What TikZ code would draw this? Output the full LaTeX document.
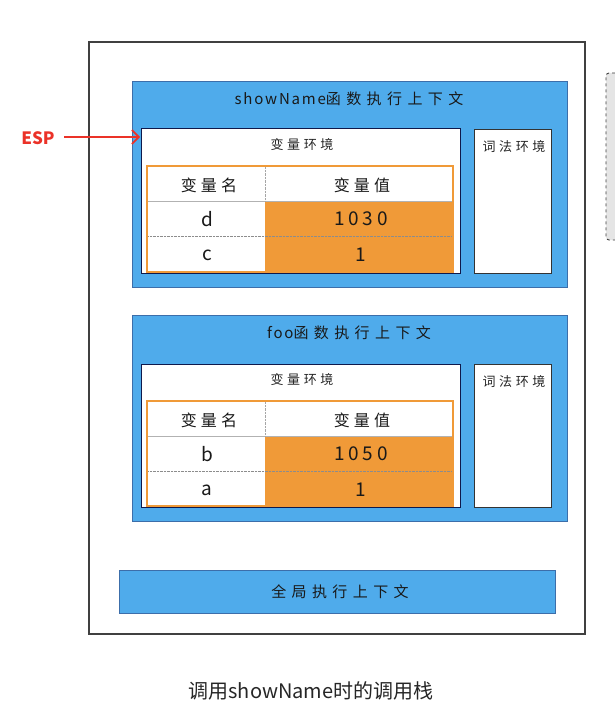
\documentclass[tikz,border=0pt]{standalone}
\usepackage{fontspec}
\setmainfont{Noto Sans CJK SC}
\usetikzlibrary{arrows.meta}
\definecolor{ctxblue}{RGB}{79,171,235}
\definecolor{ctxborder}{RGB}{60,110,170}
\definecolor{orng}{RGB}{240,154,56}
\definecolor{navy}{RGB}{15,25,75}
\definecolor{espred}{RGB}{235,50,40}
\newcommand{\lat}[1]{{\addfontfeature{LetterSpace=12}#1}}
\newcommand{\cjksp}[1]{{\addfontfeature{LetterSpace=36}#1}}
\tikzset{
  box/.style={inner sep=0pt, outer sep=0pt, anchor=north west},
  ctx/.style={box, fill=ctxblue, draw=ctxborder, line width=0.8pt},
  envbox/.style={box, fill=white, draw=navy, line width=1pt},
  lexbox/.style={box, fill=white, draw=black!80, line width=0.8pt},
  tbl/.style={box, draw=orng, line width=2pt},
  cellw/.style={box, fill=white},
  cello/.style={box, fill=orng},
  title/.style={font=\fontsize{15}{18}\selectfont, text=black!90},
  envlabel/.style={font=\fontsize{13}{15}\selectfont\addfontfeature{LetterSpace=28}, text=black!85},
  head/.style={font=\fontsize{16}{19}\selectfont\addfontfeature{LetterSpace=26}, text=black!90},
  val/.style={font=\fontsize{19}{22}\selectfont\addfontfeature{LetterSpace=20}, text=black!90},
}
\begin{document}
\begin{tikzpicture}[x=1pt,y=-1pt]
\useasboundingbox (0,0) rectangle (614,722);
% outer stack frame
\node[box, draw=black!75, line width=1.2pt, minimum width=496pt, minimum height=592pt] (stack) at (89,42) {};
% partial box at right edge
\node[box, fill=black!10, draw=black!75, dashed, line width=0.9pt, rounded corners=3pt, minimum width=30pt, minimum height=167pt] (side) at (606,73) {};

% ===== showName context =====
\node[ctx, minimum width=435pt, minimum height=206pt] (sctx) at (132,81) {};
\node[title] (stitle) at (349,99) {\lat{showName}\cjksp{函数执行上下文}};
\node[envbox, minimum width=319pt, minimum height=144pt] (senv) at (141,129) {};
\node[envlabel] (senvl) at (302,145) {变量环境};
\node[lexbox, minimum width=77pt, minimum height=144pt] (slex) at (474,129) {};
\node[envlabel, anchor=north] (slexl) at (514,137) {词法环境};
% table
\node[cellw, minimum width=306pt, minimum height=105pt] (stbg) at (147,166) {};
\node[cello, minimum width=188pt, minimum height=70pt] (sor) at (265,201) {};
\draw[black!30, line width=0.8pt] (147,201) -- (453,201);
\draw[black!35, densely dotted] (265,167) -- (265,201);
\draw[black!45, densely dotted] (147,236) -- (453,236);
\node[tbl, minimum width=306pt, minimum height=106pt] (stbl) at (147,166) {};
\node[head] (sh1) at (209,185) {变量名};
\node[head] (sh2) at (362,185) {变量值};
\node[val] (sd) at (207,219) {d};
\node[val] (sdv) at (361,219) {1030};
\node[val] (sc) at (207,255) {c};
\node[val] (scv) at (361,255) {1};

% ESP pointer
\node[font=\fontsize{17}{20}\selectfont\bfseries, text=espred] (esp) at (38,138) {ESP};
\coordinate (espend) at (140,137);
\draw[espred, line width=1.6pt, -{Straight Barb[length=7pt,width=14pt]}] (64,137) -- (espend);

% ===== foo context =====
\node[ctx, minimum width=435pt, minimum height=206pt] (fctx) at (132,315) {};
\node[title] (ftitle) at (349,333) {\lat{foo}\cjksp{函数执行上下文}};
\node[envbox, minimum width=319pt, minimum height=143pt] (fenv) at (141,364) {};
\node[envlabel] (fenvl) at (302,380) {变量环境};
\node[lexbox, minimum width=77pt, minimum height=143pt] (flex) at (474,364) {};
\node[envlabel, anchor=north] (flexl) at (514,372) {词法环境};
\node[cellw, minimum width=306pt, minimum height=105pt] (ftbg) at (147,401) {};
\node[cello, minimum width=188pt, minimum height=70pt] (for) at (265,436) {};
\draw[black!30, line width=0.8pt] (147,436) -- (453,436);
\draw[black!35, densely dotted] (265,402) -- (265,436);
\draw[black!45, densely dotted] (147,471) -- (453,471);
\node[tbl, minimum width=306pt, minimum height=105pt] (ftbl) at (147,401) {};
\node[head] (fh1) at (209,420) {变量名};
\node[head] (fh2) at (362,420) {变量值};
\node[val] (fb) at (207,454) {b};
\node[val] (fbv) at (361,454) {1050};
\node[val] (fa) at (207,490) {a};
\node[val] (fav) at (361,490) {1};

% ===== global context =====
\node[ctx, minimum width=436pt, minimum height=43pt] (gctx) at (119,570) {};
\node[title] (gtitle) at (340,592) {\cjksp{全局执行上下文}};

% caption
\node[font=\fontsize{20}{23}\selectfont, text=black!85] (cap) at (311,691) {调用showName时的调用栈};
\end{tikzpicture}
\end{document}
